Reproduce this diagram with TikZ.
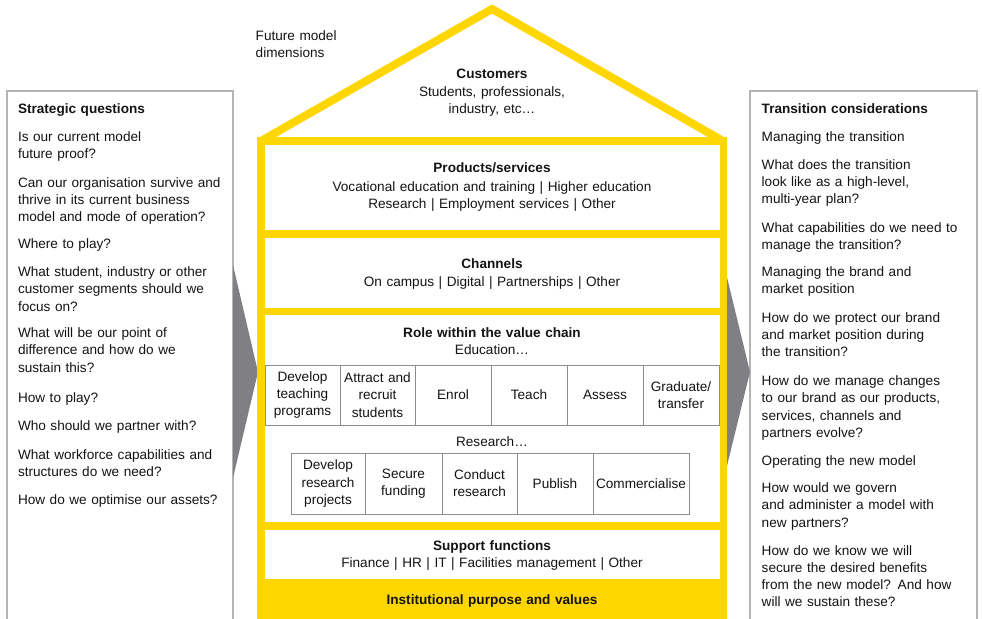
\documentclass[tikz,border=0pt]{standalone}
\usepackage{fontspec}
\setmainfont{Liberation Sans}
\definecolor{houseyellow}{RGB}{255,214,0}
\definecolor{arrowgray}{RGB}{128,128,132}
\definecolor{panelgray}{RGB}{180,180,180}
\definecolor{cellgray}{RGB}{140,140,140}
\definecolor{txt}{RGB}{20,20,20}
\tikzset{
  basetext/.style={font=\fontsize{13.6bp}{17.2bp}\selectfont, text=txt, inner sep=0pt, outer sep=0pt},
  para/.style={basetext, anchor=base west, text width=240bp, align=left},
  ctr/.style={basetext, anchor=base, text width=460bp, align=center},
  cell/.style={basetext, draw=cellgray, line width=1bp, align=center, anchor=center},
  panel/.style={draw=panelgray, line width=1.4bp},
  bigarrow/.style={fill=arrowgray},
}
\begin{document}
\begin{tikzpicture}[x=1bp, y=-1bp]
\useasboundingbox (0,0) rectangle (982,619);
\fill[white] (0,0) rectangle (982,619);

% side panels (open at the bottom)
\draw[panel] (7,619) -- (7,91) -- (233,91) -- (233,619);
\draw[panel] (750,619) -- (750,91) -- (977,91) -- (977,619);

% grey arrows
\fill[bigarrow] (233,265) -- (258,372) -- (233,478) -- cycle;
\fill[bigarrow] (724,265) -- (750,372) -- (724,478) -- cycle;

% house body
\fill[houseyellow] (257,137) rectangle (727,619);
\fill[white] (265,145) rectangle (720,230);
\fill[white] (265,238) rectangle (720,308);
\fill[white] (265,315) rectangle (720,522);
\fill[white] (265,530) rectangle (720,579);
% roof
\draw[houseyellow, line width=8bp, line join=miter] (261,141) -- (492,9) -- (723,141);

% education value chain
\node[cell, minimum width=75bp, minimum height=60bp, text width=73bp] (e1) at (302.5,395) {Develop\\teaching\\programs};
\node[cell, minimum width=75bp, minimum height=60bp, text width=73bp] (e2) at (377.5,395) {Attract and\\recruit\\students};
\node[cell, minimum width=76bp, minimum height=60bp, text width=74bp] (e3) at (453,395) {Enrol};
\node[cell, minimum width=76bp, minimum height=60bp, text width=74bp] (e4) at (529,395) {Teach};
\node[cell, minimum width=76bp, minimum height=60bp, text width=74bp] (e5) at (605,395) {Assess};
\node[cell, minimum width=76bp, minimum height=60bp, text width=74bp] (e6) at (681,395) {Graduate/\\transfer};

% research value chain
\node[cell, minimum width=74bp, minimum height=61bp, text width=72bp] (r1) at (328,483.5) {Develop\\research\\projects};
\node[cell, minimum width=77bp, minimum height=61bp, text width=75bp] (r2) at (403.5,483.5) {Secure\\funding};
\node[cell, minimum width=75bp, minimum height=61bp, text width=73bp] (r3) at (479.5,483.5) {Conduct\\research};
\node[cell, minimum width=76bp, minimum height=61bp, text width=74bp] (r4) at (555,483.5) {Publish};
\node[cell, minimum width=96bp, minimum height=61bp, text width=94bp] (r5) at (641,483.5) {Commercialise};

% house texts
\node[para] (future) at (255.7,40.7) {Future model\\dimensions};
\node[ctr] (customers) at (492,79) {\textbf{Customers}\\Students, professionals,\\industry, etc…};
\node[ctr] (products) at (492,172.7) {\textbf{Products/services}\\[1.6bp]Vocational education and training | Higher education\\Research | Employment services | Other};
\node[ctr] (channels) at (492,269) {\textbf{Channels}\\On campus | Digital | Partnerships | Other};
\node[ctr] (role) at (492,337.3) {\textbf{Role within the value chain}\\Education…};
\node[ctr] (research) at (492,446) {Research…};
\node[ctr] (support) at (492,550.7) {\textbf{Support functions}\\Finance | HR | IT | Facilities management | Other};
\node[ctr] (purpose) at (492,604) {\textbf{Institutional purpose and values}};

% left panel texts
\node[para] (sq) at (18,113.3) {\textbf{Strategic questions}};
\node[para] (sq1) at (18,141.7) {Is our current model\\future proof?};
\node[para] (sq2) at (18,187.3) {Can our organisation survive and\\thrive in its current business\\model and mode of operation?};
\node[para] (sq3) at (18,248.3) {Where to play?};
\node[para] (sq4) at (18,276.7) {What student, industry or other\\customer segments should we\\focus on?};
\node[para] (sq5) at (18,337.7) {What will be our point of\\difference and how do we\\sustain this?};
\node[para] (sq6) at (18,402.3) {How to play?};
\node[para] (sq7) at (18,430.7) {Who should we partner with?};
\node[para] (sq8) at (18,459) {What workforce capabilities and\\structures do we need?};
\node[para] (sq9) at (18,504) {How do we optimise our assets?};

% right panel texts
\node[para] (tc) at (761.7,113.3) {\textbf{Transition considerations}};
\node[para] (tc1) at (761.7,141.7) {Managing the transition};
\node[para] (tc2) at (761.7,169.3) {What does the transition\\look like as a high-level,\\multi-year plan?};
\node[para] (tc3) at (761.7,232.3) {What capabilities do we need to\\manage the transition?};
\node[para] (tc4) at (761.7,276.7) {Managing the brand and\\market position};
\node[para] (tc5) at (761.7,322.3) {How do we protect our brand\\and market position during\\the transition?};
\node[para] (tc6) at (761.7,385.7) {How do we manage changes\\to our brand as our products,\\services, channels and\\partners evolve?};
\node[para] (tc7) at (761.7,465) {Operating the new model};
\node[para] (tc8) at (761.7,492.7) {How would we govern\\and administer a model with\\new partners?};
\node[para] (tc9) at (761.7,555) {How do we know we will\\secure the desired benefits\\from the new model? And how\\will we sustain these?};
\end{tikzpicture}
\end{document}
